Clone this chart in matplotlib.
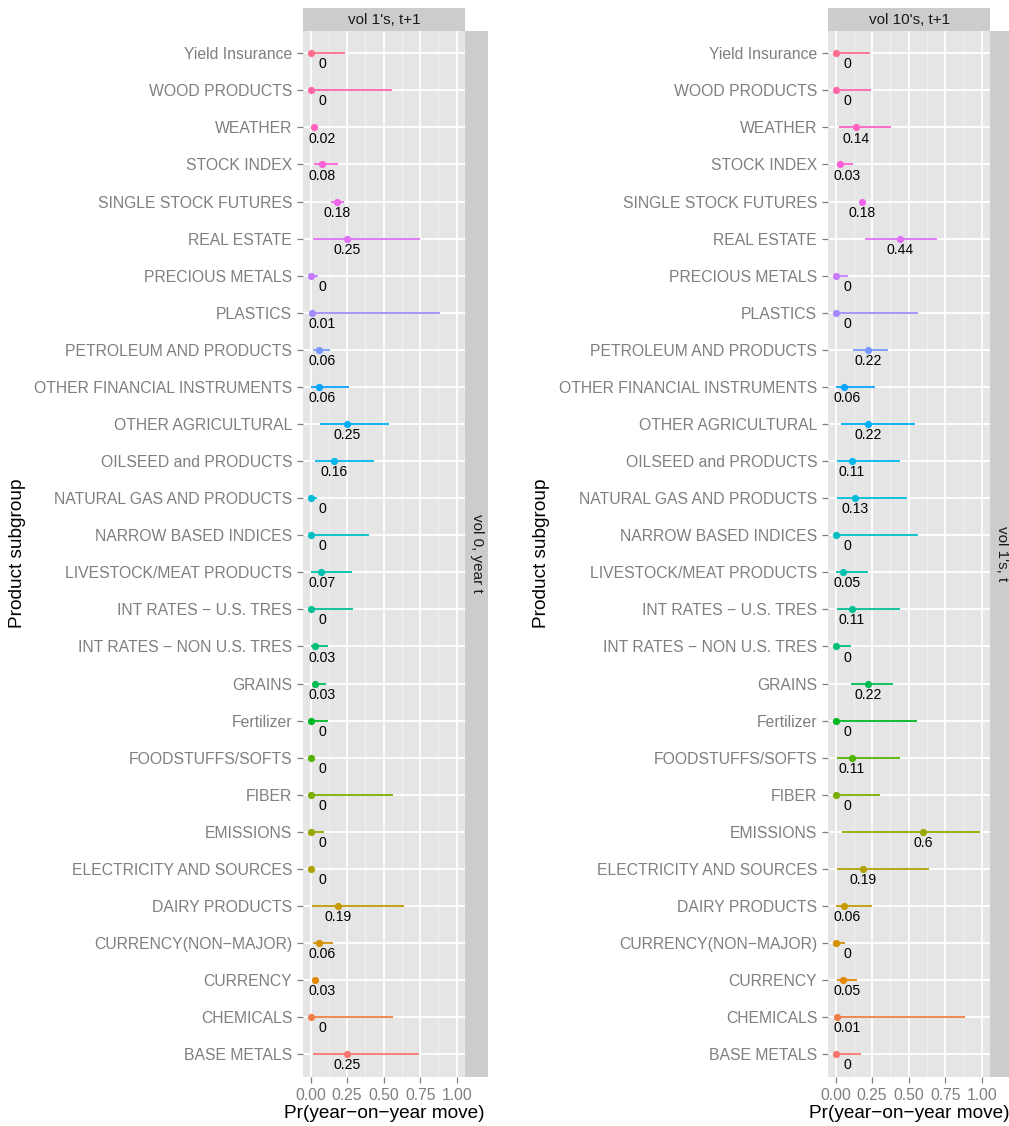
import numpy as np
import matplotlib
matplotlib.use("Agg")
import matplotlib.pyplot as plt
from matplotlib.patches import Rectangle

plt.rcParams['font.family'] = ['Liberation Sans', 'DejaVu Sans']

# Categories, bottom to top
categories = [
    "BASE METALS", "CHEMICALS", "CURRENCY", "CURRENCY(NON\u2212MAJOR)", "DAIRY PRODUCTS",
    "ELECTRICITY AND SOURCES", "EMISSIONS", "FIBER", "FOODSTUFFS/SOFTS", "Fertilizer",
    "GRAINS", "INT RATES \u2212 NON U.S. TRES", "INT RATES \u2212 U.S. TRES",
    "LIVESTOCK/MEAT PRODUCTS", "NARROW BASED INDICES", "NATURAL GAS AND PRODUCTS",
    "OILSEED and PRODUCTS", "OTHER AGRICULTURAL", "OTHER FINANCIAL INSTRUMENTS",
    "PETROLEUM AND PRODUCTS", "PLASTICS", "PRECIOUS METALS", "REAL ESTATE",
    "SINGLE STOCK FUTURES", "STOCK INDEX", "WEATHER", "WOOD PRODUCTS", "Yield Insurance",
]

# Panel 1: "vol 1's, t+1" / "vol 0, year t"
p1_est = [0.25, 0.0, 0.03, 0.06, 0.19, 0.0, 0.0, 0.0, 0.0, 0.0,
          0.03, 0.03, 0.0, 0.07, 0.0, 0.0, 0.16, 0.25, 0.06, 0.06,
          0.01, 0.0, 0.25, 0.18, 0.08, 0.02, 0.0, 0.0]
p1_lo = [0.014, 0.0, 0.007, 0.018, 0.011, 0.0, 0.0, 0.0, 0.0, 0.0,
         0.014, 0.005, 0.0, 0.002, 0.0, 0.0, 0.027, 0.066, 0.002, 0.018,
         0.0, 0.0, 0.014, 0.137, 0.025, 0.0, 0.0, 0.0]
p1_hi = [0.74, 0.562, 0.055, 0.151, 0.64, 0.025, 0.091, 0.562, 0.012, 0.119,
         0.103, 0.119, 0.288, 0.285, 0.40, 0.046, 0.432, 0.537, 0.265, 0.132,
         0.886, 0.05, 0.747, 0.226, 0.187, 0.05, 0.557, 0.235]

# Panel 2: "vol 10's, t+1" / "vol 1's, t"
p2_est = [0.0, 0.01, 0.05, 0.0, 0.06, 0.19, 0.6, 0.0, 0.11, 0.0,
          0.22, 0.0, 0.11, 0.05, 0.0, 0.13, 0.11, 0.22, 0.06, 0.22,
          0.0, 0.0, 0.44, 0.18, 0.03, 0.14, 0.0, 0.0]
p2_lo = [0.0, 0.0, 0.011, 0.0, 0.002, 0.009, 0.046, 0.0, 0.009, 0.0,
         0.103, 0.0, 0.007, 0.002, 0.0, 0.009, 0.007, 0.039, 0.002, 0.119,
         0.0, 0.0, 0.2, 0.158, 0.007, 0.023, 0.0, 0.0]
p2_hi = [0.171, 0.888, 0.144, 0.064, 0.249, 0.639, 0.989, 0.306, 0.44, 0.557,
         0.39, 0.107, 0.44, 0.219, 0.564, 0.489, 0.44, 0.546, 0.267, 0.356,
         0.562, 0.087, 0.694, 0.2, 0.119, 0.379, 0.24, 0.235]

top_strips = ["vol 1's, t+1", "vol 10's, t+1"]
right_strips = ["vol 0, year t", "vol 1's, t"]
x_ticks = [0.0, 0.25, 0.5, 0.75, 1.0]
x_ticklabels = ["0.00", "0.25", "0.50", "0.75", "1.00"]


def hcl_to_rgb(h, c=100.0, l=65.0):
    hr = np.deg2rad(h)
    u = c * np.cos(hr)
    v = c * np.sin(hr)
    Xn, Yn, Zn = 95.047, 100.0, 108.883
    Y = Yn * ((l + 16) / 116) ** 3 if l > 8 else Yn * l / 903.3
    den = Xn + 15 * Yn + 3 * Zn
    un, vn = 4 * Xn / den, 9 * Yn / den
    up = u / (13 * l) + un
    vp = v / (13 * l) + vn
    X = 9.0 * Y * up / (4 * vp)
    Z = -X / 3 - 5 * Y + 3 * Y / vp
    X, Y, Z = X / 100, Y / 100, Z / 100
    r = 3.240479 * X - 1.537150 * Y - 0.498535 * Z
    g = -0.969256 * X + 1.875992 * Y + 0.041556 * Z
    b = 0.055648 * X - 0.204043 * Y + 1.057311 * Z

    def gam(t):
        t = 12.92 * t if t <= 0.0031308 else 1.055 * t ** (1 / 2.4) - 0.055
        return min(max(t, 0.0), 1.0)
    return (gam(r), gam(g), gam(b))


n = len(categories)
hues = np.linspace(15, 375, n + 1)[:n]
colors = [hcl_to_rgb(h) for h in hues]

W, H = 1009, 1126
fig = plt.figure(figsize=(W / 100, H / 100), dpi=100)

panel_bg = "#E5E5E5"
strip_bg = "#CCCCCC"
grey50 = "#7F7F7F"

panels = [
    (303.3, p1_est, p1_lo, p1_hi, top_strips[0], right_strips[0], 18),
    (828.3, p2_est, p2_lo, p2_hi, top_strips[1], right_strips[1], 542),
]

ax_w = 161.7
ax_top = 31.0
ax_bot = 1076.5
strip_h = 23.0

y = np.arange(n)
for (x0, est, lo, hi, tstrip, rstrip, ylab_x) in panels:
    ax = fig.add_axes([x0 / W, (H - ax_bot) / H, ax_w / W, (ax_bot - ax_top) / H])
    ax.set_facecolor(panel_bg)
    ax.set_xlim(-0.05, 1.057)
    ax.set_ylim(-0.6, n - 0.4)
    for s in ax.spines.values():
        s.set_visible(False)
    # gridlines
    for xm in [0.125, 0.375, 0.625, 0.875]:
        ax.axvline(xm, color="#F2F2F2", lw=0.6, zorder=0.5)
    for xt in x_ticks:
        ax.axvline(xt, color="white", lw=1.3, zorder=0.6)
    for yi in y:
        ax.axhline(yi, color="white", lw=1.3, zorder=0.6)
    for i in range(n):
        ax.plot([lo[i], hi[i]], [y[i], y[i]], color=colors[i], lw=1.3,
                solid_capstyle="butt", zorder=2)
        ax.plot([est[i]], [y[i]], marker="o", ms=5.2, color=colors[i],
                markeredgewidth=0, zorder=3)
        lab = f"{round(est[i], 2):g}"
        ax.text(max(est[i], 0.08), y[i] - 0.30, lab, ha="center", va="center",
                fontsize=10.1, color="black", zorder=4)
    ax.set_yticks(y)
    ax.set_yticklabels(categories, fontsize=11.3, color=grey50)
    ax.set_xticks(x_ticks)
    ax.set_xticklabels(x_ticklabels, fontsize=11.3, color=grey50)
    ax.tick_params(axis="both", length=4, width=0.9, color=grey50)
    ax.tick_params(axis="y", pad=4)
    ax.tick_params(axis="x", pad=4.5)
    ax.set_xlabel("Pr(year\u2212on\u2212year move)", fontsize=13.7, labelpad=1)
    # top strip
    fig.patches.append(Rectangle((x0 / W, (H - ax_top) / H), ax_w / W, strip_h / H,
                                 transform=fig.transFigure, facecolor=strip_bg,
                                 edgecolor="none"))
    fig.text((x0 + ax_w / 2) / W, (H - ax_top + strip_h / 2) / H, tstrip,
             ha="center", va="center", fontsize=11, color="#1A1A1A")
    # right strip
    fig.patches.append(Rectangle(((x0 + ax_w) / W, (H - ax_bot) / H), strip_h / W,
                                 (ax_bot - ax_top) / H, transform=fig.transFigure,
                                 facecolor=strip_bg, edgecolor="none"))
    fig.text((x0 + ax_w + strip_h / 2) / W, (H - (ax_top + ax_bot) / 2) / H, rstrip,
             ha="center", va="center", rotation=-90, fontsize=11, color="#1A1A1A")
    # y label
    fig.text(ylab_x / W, (H - (ax_top + ax_bot) / 2) / H, "Product subgroup",
             ha="center", va="center", rotation=90, fontsize=13.7, color="black")

fig.savefig("out.png", dpi=100)
